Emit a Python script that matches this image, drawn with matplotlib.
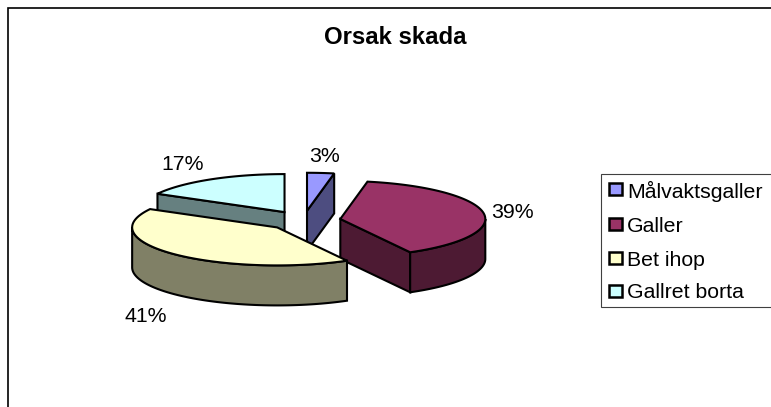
import numpy as np
import matplotlib
matplotlib.use('Agg')
import matplotlib.pyplot as plt
from matplotlib.patches import Polygon, Rectangle

plt.rcParams['font.family'] = ['Liberation Sans', 'DejaVu Sans']

title = 'Orsak skada'
categories = ['Målvaktsgaller', 'Galler', 'Bet ihop', 'Gallret borta']
values = [3, 39, 41, 17]
top_colors = ['#9999FF', '#993366', '#FFFFCC', '#CCFFFF']
side_colors = ['#4D4D80', '#4D1A33', '#808066', '#668080']

# pie geometry in pixels
cx, cy = 303.5, 220.5
rx, ry = 145.0, 38.0
depth = 40.0
explode = 0.257
line = 1.5

label_pos = [(324, 156), (512, 212), (146, 316), (183, 164)]
legend_y = [189, 224, 258, 291]
draw_order = [0, 3, 1, 2]

fig = plt.figure(figsize=(7.71, 4.07), dpi=100)
ax = fig.add_axes([0, 0, 1, 1])
ax.set_xlim(0, 771)
ax.set_ylim(407, 0)
ax.axis('off')


def rim(x0, y0, a0, a1):
    # angles in degrees, clockwise from straight up
    a = np.radians(np.linspace(a0, a1, max(int(abs(a1 - a0)), 2) + 1))
    return np.column_stack([x0 + rx * np.sin(a), y0 - ry * np.cos(a)])


def draw_slice(start, end, top, side, z):
    mid = np.radians((start + end) / 2)
    x0 = cx + explode * rx * np.sin(mid)
    y0 = cy - explode * ry * np.cos(mid)
    down = np.array([0, depth])
    apex = np.array([x0, y0])

    # cut faces, only the ones turned towards the viewer
    for a in (start, end):
        p = rim(x0, y0, a, a)[0]
        facing = (a == end and np.sin(np.radians(a)) > 0) or (a == start and np.sin(np.radians(a)) < 0)
        if facing:
            ax.add_patch(Polygon([apex, p, p + down, apex + down], closed=True, fc=side, ec='k', lw=line, zorder=z))

    # outer wall, front half of the rim
    a0, a1 = max(start, 90), min(end, 270)
    if a1 > a0:
        arc = rim(x0, y0, a0, a1)
        ax.add_patch(Polygon(np.vstack([arc, arc[::-1] + down]), closed=True, fc=side, ec='k', lw=line, zorder=z))

    ax.add_patch(Polygon(np.vstack([apex, rim(x0, y0, start, end)]), closed=True, fc=top, ec='k', lw=line, zorder=z + 0.5))


edges = np.cumsum([0] + values) / sum(values) * 360
for i in draw_order:
    draw_slice(edges[i], edges[i + 1], top_colors[i], side_colors[i], 2 + draw_order.index(i))

for v, (x, y) in zip(values, label_pos):
    ax.text(x, y, f'{v}%', fontsize=15.3, ha='center', va='center', color='k', zorder=10)

ax.text(395, 38, title, fontsize=17.2, fontweight='bold', ha='center', va='center', color='k')

# chart frame, runs off the right and bottom of the picture
ax.plot([8, 8, 771], [407, 7.5, 7.5], color='k', lw=1.2, solid_joinstyle='miter', zorder=1)

# legend box, also cut off on the right
ax.plot([771, 601, 601, 771], [174, 174, 307, 307], color='#404040', lw=0.8, solid_joinstyle='miter', zorder=1)
for name, y, c in zip(categories, legend_y, top_colors):
    ax.add_patch(Rectangle((609, y - 6), 12.5, 12, fc=c, ec='k', lw=1.8, zorder=5))
    ax.text(627, y + 2, name, fontsize=15.3, ha='left', va='center', color='k', zorder=5)

fig.savefig('out.png', dpi=100)
